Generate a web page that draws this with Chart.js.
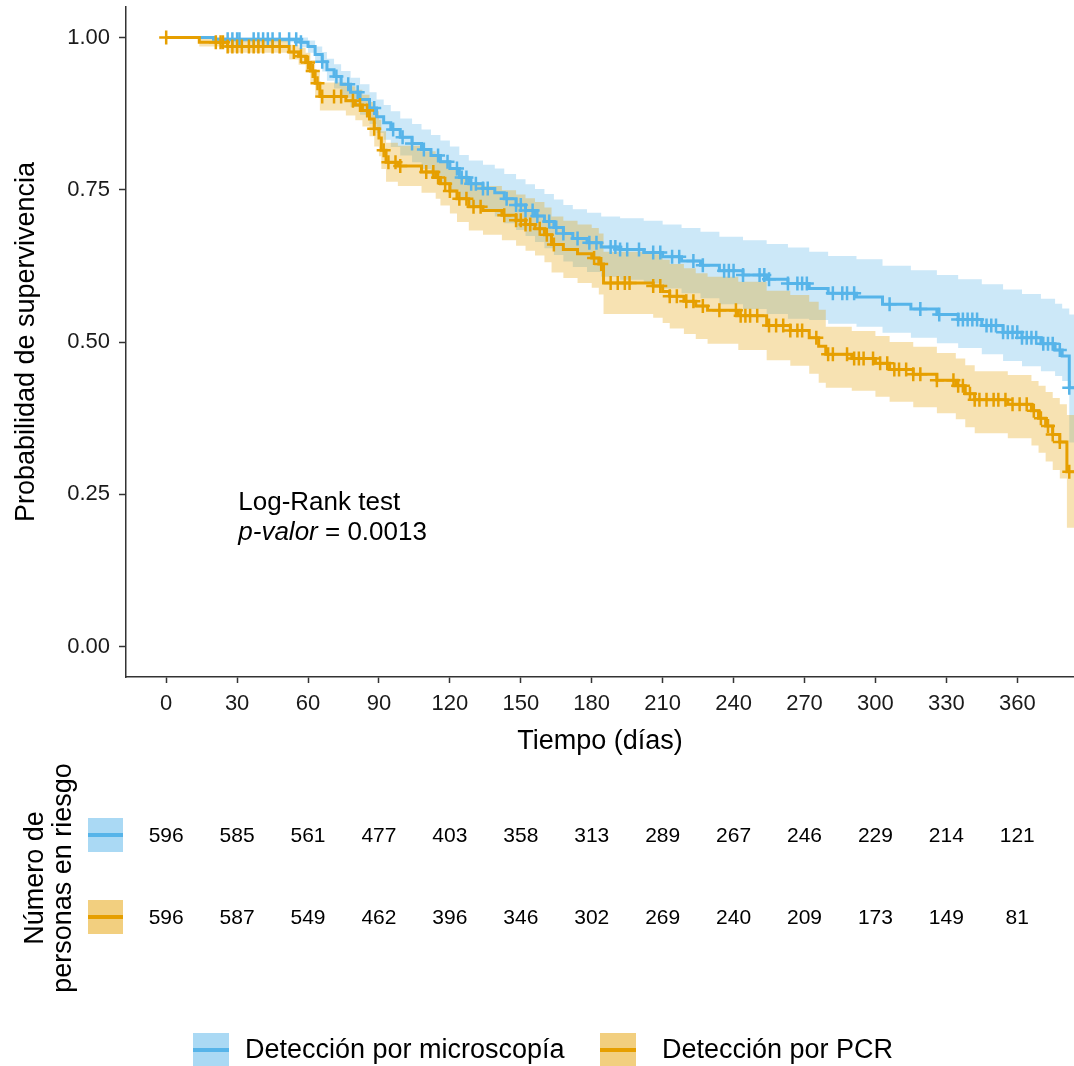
<!DOCTYPE html>
<html>
<head>
<meta charset="utf-8">
<script src="https://cdn.jsdelivr.net/npm/chart.js@4.4.1/dist/chart.umd.min.js"></script>
<style>
  html, body { margin: 0; padding: 0; background: #fff; }
</style>
</head>
<body>
<canvas id="km" width="1074" height="1066"></canvas>
<script>
const FUENTE = '"Liberation Sans", Arial, Helvetica, sans-serif';
const AZUL = '#56B4E9';
const NARANJA = '#E69F00';

// curva de microscopía (escalones): día, supervivencia, IC inferior, IC superior
const microDias = [0,20,57,60,63,66,68,71,74,78, 82,86,89,92,95,99,104,108,112,116,
  120,124,128,134,139,143,148,152,156,160, 164,168,172,178,184,192,202,210,218,226,
  234,244,254,263,272,280,292,303,315,326, 335,345,354,362,370,376,379,382,384];
const microSurv = [1.000,0.997,0.992,0.985,0.972,0.960,0.947,0.936,0.923,0.910,
  0.898,0.884,0.870,0.860,0.849,0.836,0.826,0.816,0.806,0.796,
  0.785,0.770,0.760,0.752,0.745,0.735,0.725,0.716,0.707,0.698,
  0.688,0.678,0.670,0.663,0.656,0.652,0.647,0.640,0.633,0.626,
  0.617,0.610,0.603,0.596,0.588,0.580,0.574,0.562,0.554,0.545,
  0.537,0.527,0.516,0.507,0.497,0.487,0.477,0.425,0.425];
const microInf = [1.000,0.992,0.984,0.975,0.958,0.944,0.929,0.916,0.901,0.886,
  0.873,0.858,0.843,0.832,0.820,0.806,0.795,0.784,0.773,0.762,
  0.750,0.734,0.723,0.714,0.706,0.695,0.684,0.674,0.664,0.654,
  0.643,0.632,0.623,0.615,0.607,0.602,0.596,0.588,0.580,0.572,
  0.562,0.554,0.546,0.538,0.536,0.530,0.525,0.515,0.507,0.498,
  0.490,0.480,0.469,0.460,0.452,0.444,0.436,0.335,0.335];
const microSup = [1.000,1.000,1.000,0.995,0.985,0.976,0.965,0.956,0.945,0.934,
  0.923,0.910,0.898,0.889,0.879,0.867,0.858,0.849,0.840,0.831,
  0.821,0.807,0.798,0.791,0.785,0.776,0.767,0.759,0.751,0.743,
  0.734,0.725,0.718,0.712,0.706,0.703,0.699,0.693,0.687,0.681,
  0.673,0.667,0.661,0.655,0.648,0.641,0.636,0.625,0.618,0.610,
  0.603,0.595,0.586,0.579,0.571,0.563,0.555,0.545,0.545];
const microCens = [26,28,30,31,37,39,41,43,45,48,52,55,57,66,72,77,81,88,96,100,104,109,115,119,
  123,125,127,129,131,134,136,144,148,150,152,155,157,162,165,168,174,179,182,188,190,192,195,
  200,206,209,214,217,223,227,236,238,240,244,251,253,255,263,267,269,271,282,286,288,291,306,
  319,327,335,337,339,341,343,347,349,351,354,356,358,360,362,364,366,368,371,373,375,378,382];

// curva de PCR
const pcrDias = [0,14,26,52,56,59,61,63,65,76, 80,83,86,88,90,91,93,98,108,114,
  116,120,123,128,134,142,148,152,156,160, 163,168,174,180,183,185,206,210,213,219,
  224,229,242,254,264,272,276,279,290,300, 306,316,326,334,338,342,356,366,369,372,
  375,378,381,384];
const pcrSurv = [1.000,0.992,0.985,0.976,0.969,0.959,0.945,0.925,0.903,0.896,
  0.889,0.880,0.866,0.850,0.835,0.815,0.795,0.789,0.779,0.770,
  0.760,0.748,0.735,0.722,0.716,0.708,0.700,0.693,0.686,0.676,
  0.660,0.652,0.645,0.638,0.628,0.597,0.592,0.583,0.575,0.567,
  0.559,0.552,0.543,0.527,0.519,0.507,0.493,0.480,0.473,0.465,
  0.455,0.447,0.437,0.428,0.415,0.405,0.398,0.387,0.375,0.362,
  0.348,0.336,0.287,0.287];
const pcrInf = [1.000,0.985,0.975,0.964,0.955,0.943,0.927,0.905,0.880,0.872,
  0.864,0.854,0.838,0.821,0.805,0.784,0.763,0.756,0.745,0.735,
  0.724,0.711,0.697,0.683,0.676,0.667,0.658,0.650,0.642,0.631,
  0.614,0.605,0.597,0.589,0.578,0.546,0.540,0.531,0.522,0.513,
  0.505,0.497,0.487,0.470,0.461,0.448,0.433,0.425,0.420,0.410,
  0.402,0.393,0.383,0.373,0.360,0.350,0.342,0.330,0.318,0.304,
  0.290,0.276,0.195,0.195];
const pcrSup = [1.000,1.000,0.995,0.988,0.983,0.975,0.963,0.945,0.926,0.920,
  0.914,0.906,0.894,0.879,0.865,0.846,0.827,0.822,0.813,0.805,
  0.796,0.785,0.773,0.761,0.756,0.749,0.742,0.736,0.730,0.721,
  0.706,0.699,0.693,0.687,0.678,0.648,0.644,0.635,0.628,0.621,
  0.613,0.607,0.599,0.584,0.577,0.566,0.553,0.525,0.518,0.510,
  0.500,0.492,0.482,0.473,0.462,0.452,0.446,0.436,0.428,0.418,
  0.408,0.398,0.380,0.380];
const pcrCens = [0,21,23,24,26,28,30,32,35,37,39,41,45,48,54,57,60,62,64,66,71,74,79,82,85,88,
  92,94,97,99,110,113,115,118,120,124,127,130,133,143,148,150,152,154,158,161,164,181,184,188,
  191,194,196,206,209,213,216,220,223,227,234,241,243,245,247,250,255,258,261,264,267,269,275,
  280,282,288,291,293,295,299,302,305,308,310,313,316,319,326,333,335,337,340,342,344,347,350,
  352,355,358,361,364,367,370,373,375,378,382];

// tabla de riesgo
const tiemposRiesgo = [0,30,60,90,120,150,180,210,240,270,300,330,360];
const riesgoMicro = [596,585,561,477,403,358,313,289,267,246,229,214,121];
const riesgoPcr = [596,587,549,462,396,346,302,269,240,209,173,149,81];

const ticksY = [0, 0.25, 0.5, 0.75, 1];
const grupos = ['Detección por microscopía', 'Detección por PCR'];
const pValor = '0.0013';

function puntos(dias, vals) {
  return dias.map((d, i) => ({ x: d, y: vals[i] }));
}
function enEscalon(dias, vals, t) {
  let v = vals[0];
  for (let i = 0; i < dias.length; i++) if (dias[i] <= t) v = vals[i];
  return v;
}
function cruces(cens, dias, vals) {
  return cens.map(t => ({ x: t, y: enEscalon(dias, vals, t) }));
}

function banda(datos, color, destino, orden) {
  return { data: datos, stepped: true, pointRadius: 0, borderWidth: 0,
    borderColor: 'rgba(0,0,0,0)', backgroundColor: color, fill: destino, order: orden };
}

// sin relleno extra alrededor de los ejes
function sinPadding(s) {
  s.paddingTop = 0; s.paddingBottom = 0; s.paddingLeft = 0; s.paddingRight = 0;
}

const extras = {
  id: 'extras',
  afterDraw(chart) {
    const ctx = chart.ctx;
    const sx = chart.scales.x, sy = chart.scales.y;
    ctx.save();
    ctx.fillStyle = '#000';
    ctx.textBaseline = 'alphabetic';
    ctx.textAlign = 'left';

    // texto del log-rank
    const tx = sx.getPixelForValue(30.5), ty = sy.getPixelForValue(0.224);
    ctx.font = '26px ' + FUENTE;
    ctx.fillText('Log-Rank test', tx, ty);
    ctx.font = 'italic 26px ' + FUENTE;
    ctx.fillText('p-valor', tx, ty + 30);
    const w = ctx.measureText('p-valor').width;
    ctx.font = '26px ' + FUENTE;
    ctx.fillText(' = ' + pValor, tx + w, ty + 30);

    // tabla de personas en riesgo
    const filas = [
      { vals: riesgoMicro, color: AZUL, caja: 'rgba(86,180,233,0.5)', yy: 835 },
      { vals: riesgoPcr, color: NARANJA, caja: 'rgba(230,159,0,0.5)', yy: 917 }
    ];
    ctx.font = '21px ' + FUENTE;
    ctx.textAlign = 'center';
    ctx.textBaseline = 'middle';
    filas.forEach(f => {
      ctx.fillStyle = f.caja;
      ctx.fillRect(88, f.yy - 17, 35, 34);
      ctx.fillStyle = f.color;
      ctx.fillRect(88, f.yy - 2, 35, 4);
      ctx.fillStyle = '#000';
      tiemposRiesgo.forEach((t, i) => {
        ctx.fillText(String(f.vals[i]), sx.getPixelForValue(t), f.yy + 1);
      });
    });

    // título vertical de la tabla
    ctx.font = '27px ' + FUENTE;
    [['Número de', 36], ['personas en riesgo', 64]].forEach(([txt, xx]) => {
      ctx.save();
      ctx.translate(xx, 878);
      ctx.rotate(-Math.PI / 2);
      ctx.fillText(txt, 0, 0);
      ctx.restore();
    });

    // leyenda
    const leyenda = [
      { x: 193, tx: 245, color: AZUL, caja: 'rgba(86,180,233,0.5)' },
      { x: 600, tx: 662, color: NARANJA, caja: 'rgba(230,159,0,0.5)' }
    ];
    ctx.textAlign = 'left';
    ctx.font = '27px ' + FUENTE;
    leyenda.forEach((l, i) => {
      ctx.fillStyle = l.caja;
      ctx.fillRect(l.x, 1033, 36, 34);
      ctx.fillStyle = l.color;
      ctx.fillRect(l.x, 1048, 36, 4);
      ctx.fillStyle = '#000';
      ctx.fillText(grupos[i], l.tx, 1051);
    });
    ctx.restore();
  }
};

new Chart(document.getElementById('km'), {
  type: 'line',
  data: {
    datasets: [
      banda(puntos(microDias, microSup), 'rgba(86,180,233,0.3)', 1, 9),
      banda(puntos(microDias, microInf), 'rgba(86,180,233,0.3)', false, 9),
      banda(puntos(pcrDias, pcrSup), 'rgba(230,159,0,0.3)', 3, 8),
      banda(puntos(pcrDias, pcrInf), 'rgba(230,159,0,0.3)', false, 8),
      { data: puntos(microDias, microSurv), stepped: true, borderColor: AZUL, borderWidth: 3,
        pointRadius: 0, fill: false, order: 3 },
      { data: cruces(microCens, microDias, microSurv), showLine: false, pointStyle: 'cross',
        pointRadius: 7, pointBorderWidth: 2.5, borderColor: AZUL, backgroundColor: AZUL, order: 2 },
      { data: puntos(pcrDias, pcrSurv), stepped: true, borderColor: NARANJA, borderWidth: 3,
        pointRadius: 0, fill: false, order: 1 },
      { data: cruces(pcrCens, pcrDias, pcrSurv), showLine: false, pointStyle: 'cross',
        pointRadius: 7, pointBorderWidth: 2.5, borderColor: NARANJA, backgroundColor: NARANJA, order: 0 }
    ]
  },
  options: {
    responsive: false,
    animation: false,
    events: [],
    layout: { autoPadding: false, padding: { top: 7, right: 0, bottom: 306, left: 0 } },
    scales: {
      x: {
        type: 'linear',
        min: -17,
        max: 384,
        afterBuildTicks: s => { s.ticks = tiemposRiesgo.map(v => ({ value: v })); },
        afterFit: s => { s.height = 83; sinPadding(s); },
        ticks: { autoSkip: false, maxRotation: 0, padding: 8, color: '#1a1a1a',
          font: { family: FUENTE, size: 22 }, callback: v => String(v) },
        grid: { drawOnChartArea: false, drawTicks: true, tickLength: 6, tickColor: '#333', tickWidth: 1.5 },
        border: { color: '#333', width: 1.5 },
        title: { display: true, text: 'Tiempo (días)', color: '#000',
          font: { family: FUENTE, size: 27 }, padding: { top: 0, bottom: 2 } }
      },
      y: {
        type: 'linear',
        min: -0.05,
        max: 1.05,
        afterBuildTicks: s => { s.ticks = ticksY.map(v => ({ value: v })); },
        afterFit: s => { s.width = 126; sinPadding(s); },
        ticks: { autoSkip: false, padding: 9, color: '#1a1a1a',
          font: { family: FUENTE, size: 22 }, callback: v => Number(v).toFixed(2) },
        grid: { drawOnChartArea: false, drawTicks: true, tickLength: 7, tickColor: '#333', tickWidth: 1.5 },
        border: { color: '#333', width: 1.5 },
        title: { display: true, text: 'Probabilidad de supervivencia', color: '#000',
          font: { family: FUENTE, size: 27 }, padding: { top: 10, bottom: 0 } }
      }
    },
    plugins: {
      legend: { display: false },
      tooltip: { enabled: false }
    }
  },
  plugins: [extras]
});
</script>
</body>
</html>
